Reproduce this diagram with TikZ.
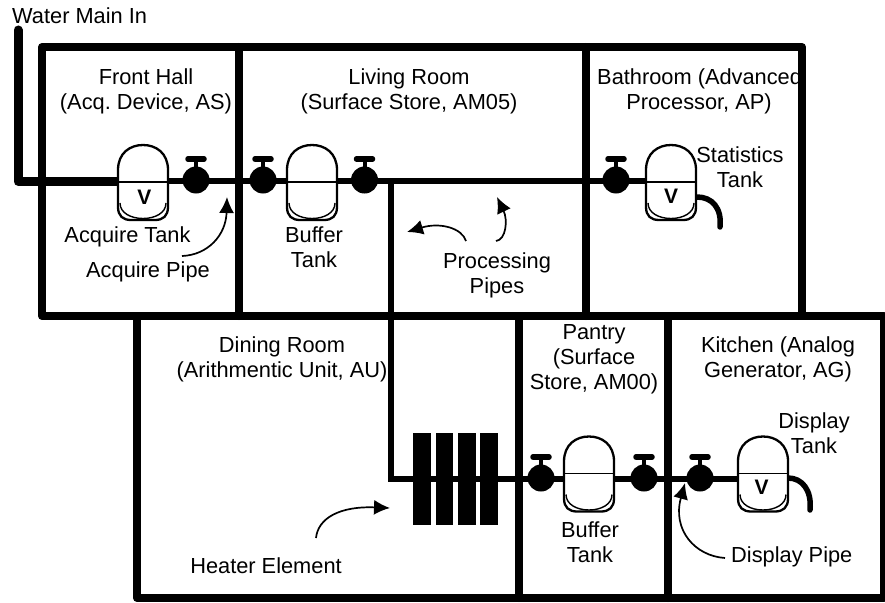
\documentclass[tikz,border=0pt]{standalone}
\usepackage{fontspec}
\setmainfont{Liberation Sans}
\usepackage{tikz}
\usetikzlibrary{arrows.meta}
\tikzset{
  wall/.style={line width=8pt,line cap=round,line join=round},
  pipe/.style={line width=6pt},
  main/.style={line width=9pt,line cap=round,line join=round},
  drain/.style={line width=5.5pt,line cap=round},
  pointer/.style={-{Latex[length=16pt,width=15pt]},line width=1.7pt},
  lab/.style={align=center,inner sep=0pt,font=\frenchspacing\fontsize{21.8}{25}\selectfont},
  tag/.style={inner sep=0pt,font=\fontsize{21}{21}\selectfont\bfseries}
}
\begin{document}
\begin{tikzpicture}[x=1pt,y=-1pt]
\useasboundingbox (0,0) rectangle (885,602);

% labels first, the walls cut the long one
\begin{scope}
\clip (0,0) rectangle (798,602);
\node[lab,anchor=west] (bath) at (597,79) {Bathroom (Advanced};
\end{scope}
\node[lab] (proc2) at (699,104) {Processor, AP)};
\node[lab,anchor=west] (mainin) at (12,16) {Water Main In};
\node[lab] (hall) at (146,91) {Front Hall\\(Acq. Device, AS)};
\node[lab] (living) at (409,91) {Living Room\\(Surface Store, AM05)};
\node[lab] (dining) at (282,359) {Dining Room\\(Arithmentic Unit, AU)};
\node[lab] (pantry) at (594,359.5) {Pantry\\(Surface\\Store, AM00)};
\node[lab] (kitchen) at (778,359.5) {Kitchen (Analog\\Generator, AG)};

% walls
\draw[wall] (42,316) rectangle (802,47);
\draw[wall] (238.5,47) -- (238.5,316);
\draw[wall] (586,47) -- (586,316);
\draw[wall] (137,316) -- (137,598) -- (884,598) -- (884,316) -- (802,316);
\draw[wall] (518.5,316) -- (518.5,598);
\draw[wall] (667.5,316) -- (667.5,598);

% pipes
\draw[main] (18,30) -- (18,181.5) -- (120,181.5);
\draw[pipe] (120,181) -- (646,181);
\draw[pipe] (738,478.5) -- (391,478.5) -- (391,181);
\draw[drain] (697,197) .. controls (712,197) and (722,208) .. (720,227);
\draw[drain] (788,478) .. controls (802,478) and (812,490) .. (810,510);

% heater
\foreach\xl/\xr in {413/431,436/453,458/476,480/498}
  \fill (\xl,433) rectangle (\xr,525);

% valves
\foreach\xv/\yv in {196/180,263/180,364.5/180,616/180,541/478,644/478,700/478}{
  \fill (\xv,\yv) circle (13.5);
  \draw[line width=4pt] (\xv,\yv) -- (\xv,\yv-20);
  \draw[line width=5.5pt,line cap=round] (\xv-8,\yv-21) -- (\xv+8,\yv-21);
}

% tanks
\foreach\xt/\yt in {118/145,287/145,646/145,564/436.5,738/436.5}{
  \draw[fill=white,line width=2.3pt] (\xt,\yt+25) .. controls (\xt,\yt+8) and (\xt+12,\yt) .. (\xt+25,\yt)
    .. controls (\xt+38,\yt) and (\xt+50,\yt+8) .. (\xt+50,\yt+25) -- (\xt+50,\yt+62)
    .. controls (\xt+50,\yt+71) and (\xt+45,\yt+75) .. (\xt+37,\yt+75) -- (\xt+13,\yt+75)
    .. controls (\xt+5,\yt+75) and (\xt,\yt+71) .. (\xt,\yt+62) -- cycle;
  \draw[line width=1.4pt] (\xt+2,\yt+58) .. controls (\xt+2,\yt+68) and (\xt+13,\yt+73.5) .. (\xt+25,\yt+73.5)
    .. controls (\xt+37,\yt+73.5) and (\xt+48,\yt+68) .. (\xt+48,\yt+58);
  \draw[line width=1.5pt] (\xt,\yt+37) -- (\xt+50,\yt+37);
}
\node[tag] (vacq) at (144.5,197) {V};
\node[tag] (vstat) at (671,196) {V};
\node[tag] (vdisp) at (761.5,487) {V};

% tank and pipe labels
\node[lab] (acqtank) at (127.5,237) {Acquire Tank};
\node[lab] (acqpipe) at (148,272) {Acquire Pipe};
\node[lab] (buf1) at (314,247) {Buffer\\Tank};
\node[lab] (stat) at (740,167.5) {Statistics\\Tank};
\node[lab] (proc) at (497,275.5) {Processing\\Pipes};
\node[lab] (buf2) at (590,542.5) {Buffer\\Tank};
\node[lab] (disptank) at (814,433.5) {Display\\Tank};
\node[lab,anchor=west] (disppipe) at (731,557) {Display Pipe};
\node[lab] (heat) at (266,566) {Heater Element};

% pointers
\draw[pointer] (182,256) .. controls (208,255) and (226,235) .. (227,197);
\draw[pointer] (466,241) .. controls (462,228) and (440,222) .. (407,232);
\draw[pointer] (496,241) .. controls (506,240) and (508,220) .. (497,197);
\draw[pointer] (316,538) .. controls (318,518) and (340,506) .. (390,508);
\draw[pointer] (725,558) .. controls (695,556) and (672,530) .. (685,483);
\end{tikzpicture}
\end{document}
